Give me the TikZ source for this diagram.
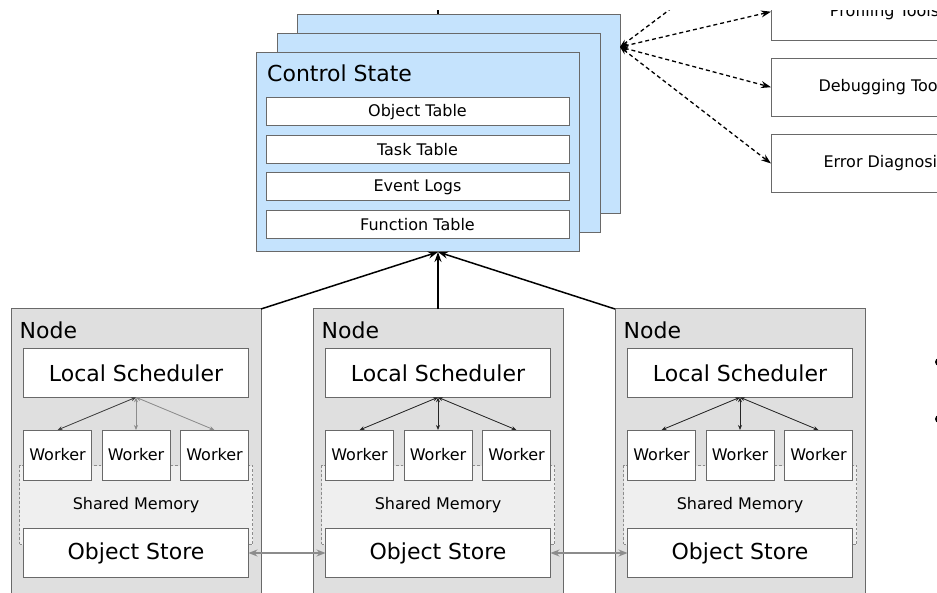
\documentclass[tikz,border=0pt]{standalone}
\usepackage{fontspec}
\setmainfont{DejaVu Sans}
\usetikzlibrary{arrows.meta}
\definecolor{csblue}{RGB}{197,227,253}
\definecolor{bordergray}{RGB}{105,105,105}
\definecolor{nodegray}{RGB}{223,223,223}
\definecolor{shmgray}{RGB}{239,239,239}
\definecolor{arrgray}{RGB}{140,140,140}
\newcommand\myfs[1]{\fontsize{#1}{#1}\selectfont}
\tikzset{
  box/.style={draw=bordergray, line width=1pt, inner sep=0pt, outer sep=0pt},
  csbox/.style={box, fill=csblue, anchor=north west, minimum width=323pt, minimum height=199pt},
  tbl/.style={box, fill=white, minimum width=303pt, minimum height=28pt, font=\myfs{16}},
  toolbox/.style={box, fill=white, minimum width=227pt, minimum height=58pt, font=\myfs{16}},
  nodebox/.style={box, fill=nodegray, anchor=north west, minimum width=250pt, minimum height=290pt},
  bigbox/.style={box, fill=white, minimum width=225pt, minimum height=49pt, font=\myfs{22}},
  wkbox/.style={box, fill=white, minimum width=68pt, minimum height=50pt, font=\myfs{16}},
  shmbox/.style={draw=arrgray, line width=0.9pt, dash pattern=on 2.5pt off 2pt, fill=shmgray,
    minimum width=233pt, minimum height=79pt, inner sep=0pt, font=\myfs{16}},
  title/.style={inner sep=0pt, anchor=west, font=\myfs{22}},
  warr/.style={line width=0.8pt, {Stealth[length=5pt,width=4pt]}-{Stealth[length=5pt,width=4pt]}},
  garr/.style={draw=arrgray, line width=1.3pt, {Stealth[length=9pt,width=7pt]}-{Stealth[length=9pt,width=7pt]}},
  barr/.style={line width=1.5pt, -{Stealth[length=10pt,width=7pt]}},
  darr/.style={line width=1.3pt, dash pattern=on 4pt off 3pt, {Stealth[length=8pt,width=6pt]}-{Stealth[length=10pt,width=7pt]}},
}
\begin{document}
\begin{tikzpicture}[x=1pt,y=-1pt]
\useasboundingbox (0,0) rectangle (937,593);
\clip (0,0) rectangle (937,593);
\fill[white] (0,0) rectangle (937,593);

% control state stack
\coordinate (topin) at (438,-20);
\coordinate (topend) at (438,15);
\draw[line width=1.8pt] (topin) -- (topend);
\node[csbox] (csback) at (297,15) {};
\node[csbox] (csmid) at (277,34) {};
\node[csbox] (csfront) at (256,53) {};
\node[title] (cstitle) at (267,73.5) {Control State};
\node[tbl] (tobj) at (417.5,112) {Object Table};
\node[tbl] (ttask) at (417.5,149.5) {Task Table};
\node[tbl] (tev) at (417.5,187) {Event Logs};
\node[tbl] (tfun) at (417.5,224.5) {Function Table};

% tools
\node[toolbox] (prof) at (884.5,11.7) {Profiling Tools};
\node[toolbox] (dbg) at (884.5,87.2) {Debugging Tools};
\node[toolbox] (err) at (884.5,163.5) {Error Diagnosis};
\coordinate (dsrc) at (620,47);
\coordinate (dup) at (709,-20);
\draw[darr] (dsrc) -- (dup);
\draw[darr] (dsrc) -- (prof.west);
\draw[darr] (dsrc) -- (dbg.west);
\draw[darr] (dsrc) -- (err.west);

% bullets at right edge
\fill (939,362) circle (4pt);
\fill (939,419) circle (4pt);

% nodes
\foreach \i/\ox/\ca/\cb in {1/11/black!75/arrgray, 2/313/black!85/black!85, 3/615/black!85/black!85} {
  \node[nodebox] (n\i) at (\ox,309) {};
  \node[title] (nl\i) at (\ox+8.5,330) {Node};
  \node[shmbox] (sm\i) at (\ox+125,505) {Shared Memory};
  \node[bigbox] (ls\i) at (\ox+125,372.8) {Local Scheduler};
  \node[wkbox] (wa\i) at (\ox+46.5,455) {Worker};
  \node[wkbox] (wb\i) at (\ox+125,455) {Worker};
  \node[wkbox] (wc\i) at (\ox+203.5,455) {Worker};
  \node[bigbox] (os\i) at (\ox+125,553) {Object Store};
  \draw[warr, draw=\ca, fill=\ca] (ls\i.south) -- (wa\i.north);
  \draw[warr, draw=\cb, fill=\cb] (ls\i.south) -- (wb\i.north);
  \draw[warr, draw=\cb, fill=\cb] (ls\i.south) -- (wc\i.north);
}
\draw[garr] (os1.east) -- (os2.west);
\draw[garr] (os2.east) -- (os3.west);

\coordinate (csin) at (438,252);
\draw[barr] (n1.north east) -- (csin);
\draw[barr] (n2.north) -- (csin);
\draw[barr] (n3.north west) -- (csin);

% top strip of the crop is blank
\fill[white] (0,0) rectangle (937,10.5);
\end{tikzpicture}
\end{document}
